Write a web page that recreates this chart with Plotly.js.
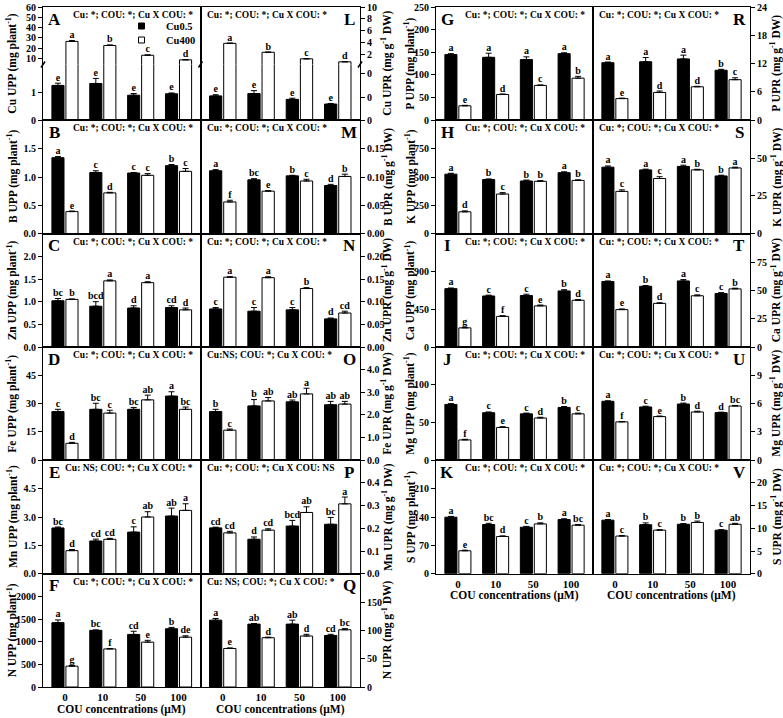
<!DOCTYPE html>
<html><head><meta charset="utf-8">
<script src="https://cdn.plot.ly/plotly-3.0.1.min.js"></script>
<style>body{margin:0;background:#fff}#chart{width:783px;height:718px}</style>
</head><body><div id="chart"></div>
<script>
// ---------- DATA ----------
const categories = ['0','10','50','100'];
const seriesNames = ['Cu0.5','Cu400'];

// Cu
const A_b=[1.25,1.32,0.9,0.95], A_be=[0.08,0.18,0.06,0.03], A_w=[26.5,22.5,13,8.5], A_we=[0.8,0.6,0.4,0.3], A_bl=['e','e','e','e'], A_wl=['a','b','c','d'];
const L_b=[0.21,0.23,0.18,0.14], L_be=[0.01,0.025,0.01,0.005], L_w=[3.9,2.4,1.3,0.8], L_we=[0.05,0.04,0.02,0.02], L_bl=['e','e','e','e'], L_wl=['a','b','c','d'];
// B
const B_b=[1.34,1.08,1.07,1.2], B_be=[0.02,0.03,0.01,0.02], B_w=[0.39,0.72,1.03,1.1], B_we=[0.01,0.01,0.03,0.05], B_bl=['a','c','c','b'], B_wl=['e','d','c','c'];
const M_b=[0.111,0.095,0.102,0.085], M_be=[0.002,0.002,0.001,0.002], M_w=[0.056,0.075,0.093,0.101], M_we=[0.003,0.001,0.003,0.004], M_bl=['a','bc','b','d'], M_wl=['f','e','c','b'];
// Zn
const C_b=[1.02,0.9,0.86,0.87], C_be=[0.05,0.1,0.05,0.04], C_w=[1.05,1.46,1.42,0.82], C_we=[0.01,0.02,0.02,0.04], C_bl=['bc','bcd','d','cd'], C_wl=['b','a','a','d'];
const N_b=[0.084,0.079,0.082,0.062], N_be=[0.003,0.008,0.005,0.002], N_w=[0.154,0.153,0.129,0.075], N_we=[0.001,0.002,0.002,0.004], N_bl=['c','c','c','d'], N_wl=['a','a','b','cd'];
// Fe
const D_b=[25.8,27,27,34], D_be=[1.2,3.2,1,2.3], D_w=[9,25,32,27], D_we=[0.5,1.5,2.5,1.2], D_bl=['c','bc','bc','a'], D_wl=['d','c','ab','bc'];
const O_b=[2.15,2.4,2.58,2.45], O_be=[0.1,0.28,0.08,0.15], O_w=[1.33,2.62,2.93,2.48], O_we=[0.05,0.15,0.25,0.12], O_bl=['b','b','ab','ab'], O_wl=['c','ab','a','ab'];
// Mn
const E_b=[2.42,1.73,2.2,3.05], E_be=[0.05,0.1,0.28,0.42], E_w=[1.22,1.82,3.0,3.35], E_we=[0.06,0.05,0.28,0.35], E_bl=['bc','cd','c','ab'], E_wl=['d','cd','ab','a'];
const P_b=[0.202,0.152,0.21,0.218], P_be=[0.003,0.01,0.025,0.03], P_w=[0.18,0.192,0.27,0.308], P_we=[0.007,0.006,0.025,0.03], P_bl=['cd','d','bcd','bc'], P_wl=['cd','cd','ab','a'];
// N
const F_b=[1420,1250,1160,1285], F_be=[60,10,70,30], F_w=[460,840,990,1100], F_we=[15,8,40,30], F_bl=['a','bc','cd','b'], F_wl=['g','f','e','de'];
const Q_b=[118,111,111,91], Q_be=[3,1,7,2], Q_w=[68,87,90,101], Q_we=[1,1,3,2], Q_bl=['a','ab','ab','cd'], Q_wl=['e','d','d','bc'];
// P
const G_b=[145,139,134,147], G_be=[2,9,6,2], G_w=[32,57,77,93], G_we=[1,1,1,4], G_bl=['a','a','a','a'], G_wl=['e','d','c','b'];
const R_b=[12.2,12.4,13,10.6], R_be=[0.15,0.9,0.8,0.2], R_w=[4.6,5.9,7.1,8.6], R_we=[0.1,0.3,0.1,0.4], R_bl=['a','a','a','b'], R_wl=['e','d','d','c'];
// K
const H_b=[525,478,465,538], H_be=[8,5,8,8], H_w=[193,350,462,470], H_we=[8,12,6,5], H_bl=['a','b','b','a'], H_wl=['d','c','b','b'];
const S_b=[44,42.2,44.5,38.2], S_be=[0.8,0.5,0.8,0.5], S_w=[28,36.5,42.2,43.5], S_we=[1,1.2,0.4,0.5], S_bl=['a','a','a','b'], S_wl=['c','c','b','a'];
// Ca
const I_b=[695,608,614,668], I_be=[8,10,15,15], I_w=[228,365,490,557], I_we=[5,8,10,8], I_bl=['a','c','c','b'], I_wl=['g','f','e','d'];
const T_b=[57.8,53.6,58.3,47.2], T_be=[0.5,0.6,1.2,0.8], T_w=[33,38.5,45.2,51.3], T_we=[0.6,0.5,0.8,0.6], T_bl=['a','b','a','c'], T_wl=['e','d','c','b'];
// Mg
const J_b=[74,63,61.5,70], J_be=[1,1,1,1.2], J_w=[27,43.5,56,61.5], J_we=[0.8,1,1,1], J_bl=['a','c','c','b'], J_wl=['f','e','d','c'];
const U_b=[6.25,5.65,5.96,5.05], U_be=[0.05,0.08,0.1,0.05], U_w=[4.07,4.63,5.12,5.75], U_we=[0.04,0.06,0.08,0.06], U_bl=['a','c','b','d'], U_wl=['f','e','d','bc'];
// S
const K_b=[139.5,121.4,114.8,133.7], K_be=[2,3,2,2], K_w=[56.6,91.9,123,119.8], K_we=[1.5,1.5,2.5,1.5], K_bl=['a','bc','c','a'], K_wl=['e','d','b','bc'];
const V_b=[11.8,10.8,10.9,9.6], V_be=[0.15,0.4,0.15,0.1], V_w=[8.3,9.6,11.3,10.9], V_we=[0.1,0.1,0.3,0.2], V_bl=['a','b','b','c'], V_wl=['c','c','b','ab'];

// ---------- LAYOUT HELPERS ----------
const FONT='Liberation Serif';
const W=783,H=718;
const fx=v=>v/W, fy=v=>1-v/H;
const ROW=[7,120.3,233.7,347,460.3,573.7,687];
const COLS={LL:[43,200.5],LR:[200.5,360],RL:[436,593],RR:[593,750]};
const XR=[-0.58,3.58];
const XPOS=[0,1,2,3];
const traces=[],annotations=[],shapes=[];
const layout={width:W,height:H,margin:{l:0,r:0,t:0,b:0},paper_bgcolor:'white',plot_bgcolor:'white',
  barmode:'overlay',showlegend:false,font:{family:FONT,color:'black'}};
let n=0;
const tf=(s)=>({family:FONT,size:s,weight:'bold',color:'black'});

function addSub(col,yTop,yBot,yr,tickvals,ticktext,opts){
  n++;
  const xk=n===1?'xaxis':'xaxis'+n, yk=n===1?'yaxis':'yaxis'+n;
  const xid=n===1?'x':'x'+n, yid=n===1?'y':'y'+n;
  const side=(col==='LR'||col==='RR')?'right':'left';
  layout[xk]={domain:[fx(COLS[col][0]),fx(COLS[col][1])],range:XR,anchor:yid,showline:true,
    mirror:opts.xmirror!==false,side:opts.xside||'bottom',linecolor:'black',linewidth:1,
    showgrid:false,zeroline:false,ticks:'',tickvals:XPOS,ticktext:categories,
    showticklabels:!!opts.xlabels,tickfont:tf(11),fixedrange:true};
  layout[yk]={domain:[fy(yBot),fy(yTop)],range:yr,anchor:xid,side:side,showline:true,mirror:true,
    linecolor:'black',linewidth:1,ticks:'outside',ticklen:4,tickwidth:1,tickcolor:'black',
    tickvals:tickvals,ticktext:ticktext,showgrid:false,zeroline:false,tickfont:tf(10),fixedrange:true};
  return {x:xid,y:yid};
}
function addBars(ids,vals,errs,color,offset){
  traces.push({type:'bar',x:XPOS,y:vals,xaxis:ids.x,yaxis:ids.y,offset:offset,width:0.32,
    marker:{color:color,line:{color:'black',width:1}},
    error_y:{type:'data',array:errs,arrayminus:[0,0,0,0],symmetric:false,color:'black',thickness:1,width:3},
    hoverinfo:'skip',showlegend:false});
}
function addLetters(ids,vals,errs,letters,dx){
  traces.push({type:'scatter',mode:'text',x:XPOS.map(i=>i+dx),y:vals.map((v,i)=>v+errs[i]),
    text:letters,textposition:'top center',textfont:tf(10),xaxis:ids.x,yaxis:ids.y,
    cliponaxis:false,hoverinfo:'skip',showlegend:false});
}
function fmt(vals,d){return vals.map(v=>v.toFixed(d));}
function decorate(p){
  const [x0,x1]=COLS[p.col], top=ROW[p.row], bot=ROW[p.row+1];
  const right=(p.col==='LR'||p.col==='RR');
  annotations.push({xref:'paper',yref:'paper',x:fx(right?x1-11:x0+11),y:fy(top+12),text:p.id,
    showarrow:false,font:tf(17),xanchor:'center',yanchor:'middle'});
  annotations.push({xref:'paper',yref:'paper',x:fx(right?x0+4:x1-6),y:fy(top+8),text:p.stat,
    showarrow:false,font:tf(9.5),xanchor:right?'left':'right',yanchor:'middle'});
  let tx;
  if(p.col==='LL')tx=12; else if(p.col==='LR')tx=387; else if(p.col==='RL')tx=410; else tx=776;
  annotations.push({xref:'paper',yref:'paper',x:fx(tx),y:fy((top+bot)/2),text:p.title,textangle:-90,
    showarrow:false,font:tf(11.5),xanchor:'center',yanchor:'middle'});
  if(p.bottom){
    annotations.push({xref:'paper',yref:'paper',x:fx((x0+x1)/2),y:fy(bot+22),text:'COU concentrations (μM)',
      showarrow:false,font:tf(11.5),xanchor:'center',yanchor:'middle'});
  }
}
function panel(p){
  const top=ROW[p.row], bot=ROW[p.row+1];
  const ids=addSub(p.col,top,bot,p.range,p.tickvals,p.ticktext,{xlabels:p.bottom});
  addBars(ids,p.b,p.be,'black',-0.345);
  addBars(ids,p.w,p.we,'white',0.025);
  addLetters(ids,p.b,p.be,p.bl,-0.185);
  addLetters(ids,p.w,p.we,p.wl,0.185);
  decorate(p);
}
function brokenPanel(p){
  const top=ROW[p.row], bot=ROW[p.row+1], brk=64.5;
  const lo=addSub(p.col,brk,bot,p.rangeLo,p.ticksLo,p.textLo,{xmirror:false});
  addBars(lo,p.b,p.be,'black',-0.345);
  addBars(lo,p.w,p.we,'white',0.025);
  addLetters(lo,p.b,p.be,p.bl,-0.185);
  const up=addSub(p.col,top,brk,p.rangeUp,p.ticksUp,p.textUp,{xmirror:false,xside:'top'});
  addBars(up,p.w,p.we,'white',0.025);
  addLetters(up,p.w,p.we,p.wl,0.185);
  decorate(p);
  const xs=(p.col==='LL')?[COLS.LL[0],COLS.LL[1]]:[COLS.LR[1]];
  xs.forEach(x=>shapes.push({type:'line',xref:'paper',yref:'paper',x0:fx(x-2),x1:fx(x+2),y0:fy(brk+3),y1:fy(brk-3),line:{color:'black',width:1.5}}));
}

const ST='Cu: *; COU: *; Cu X COU: *';
const UPP=s=>s+' UPP (mg plant<sup>-1</sup>)';
const UPR=s=>s+' UPR (mg g<sup>-1</sup> DW)';

// ---------- PANELS ----------
brokenPanel({id:'A',col:'LL',row:0,b:A_b,be:A_be,w:A_w,we:A_we,bl:A_bl,wl:A_wl,
  rangeLo:[0,2],ticksLo:[0,1],textLo:['0','1'],rangeUp:[4,60],ticksUp:[10,20,30,40,50,60],textUp:['10','20','30','40','50','60'],
  title:UPP('Cu'),stat:ST});
brokenPanel({id:'L',col:'LR',row:0,b:L_b,be:L_be,w:L_w,we:L_we,bl:L_bl,wl:L_wl,
  rangeLo:[0,0.48],ticksLo:[0,0.2,0.4],textLo:['0','0','0'],rangeUp:[0.35,10],ticksUp:[2,4,6,8,10],textUp:['2','4','6','8','10'],
  title:UPR('Cu'),stat:ST});

const specs=[
 {id:'B',col:'LL',row:1,d:[B_b,B_be,B_w,B_we,B_bl,B_wl],range:[0,2],tv:[0,0.5,1,1.5],dec:1,t:UPP('B'),stat:ST},
 {id:'M',col:'LR',row:1,d:[M_b,M_be,M_w,M_we,M_bl,M_wl],range:[0,0.2],tv:[0,0.05,0.1,0.15],dec:2,t:UPR('B'),stat:ST},
 {id:'C',col:'LL',row:2,d:[C_b,C_be,C_w,C_we,C_bl,C_wl],range:[0,2.5],tv:[0,0.5,1,1.5,2],dec:1,t:UPP('Zn'),stat:ST},
 {id:'N',col:'LR',row:2,d:[N_b,N_be,N_w,N_we,N_bl,N_wl],range:[0,0.25],tv:[0,0.05,0.1,0.15,0.2],dec:2,t:UPR('Zn'),stat:ST},
 {id:'D',col:'LL',row:3,d:[D_b,D_be,D_w,D_we,D_bl,D_wl],range:[0,60],tv:[0,15,30,45],dec:0,t:UPP('Fe'),stat:ST},
 {id:'O',col:'LR',row:3,d:[O_b,O_be,O_w,O_we,O_bl,O_wl],range:[0,5],tv:[0,1,2,3,4],dec:1,t:UPR('Fe'),stat:'Cu:NS; COU: *; Cu X COU: *'},
 {id:'E',col:'LL',row:4,d:[E_b,E_be,E_w,E_we,E_bl,E_wl],range:[0,6],tv:[0,1.5,3,4.5],dec:1,t:UPP('Mn'),stat:'Cu: NS; COU: *; Cu X COU: *'},
 {id:'P',col:'LR',row:4,d:[P_b,P_be,P_w,P_we,P_bl,P_wl],range:[0,0.5],tv:[0,0.1,0.2,0.3,0.4],dec:1,t:UPR('Mn'),stat:'Cu: *; COU: *; Cu X COU: NS'},
 {id:'F',col:'LL',row:5,d:[F_b,F_be,F_w,F_we,F_bl,F_wl],range:[0,2500],tv:[0,500,1000,1500,2000],dec:0,t:UPP('N'),stat:ST,bottom:true},
 {id:'Q',col:'LR',row:5,d:[Q_b,Q_be,Q_w,Q_we,Q_bl,Q_wl],range:[0,200],tv:[0,50,100,150],dec:0,t:UPR('N'),stat:'Cu: NS; COU: *; Cu X COU: *',bottom:true},
 {id:'G',col:'RL',row:0,d:[G_b,G_be,G_w,G_we,G_bl,G_wl],range:[0,250],tv:[0,50,100,150,200,250],dec:0,t:UPP('P'),stat:ST},
 {id:'R',col:'RR',row:0,d:[R_b,R_be,R_w,R_we,R_bl,R_wl],range:[0,24],tv:[0,6,12,18,24],dec:0,t:UPR('P'),stat:ST},
 {id:'H',col:'RL',row:1,d:[H_b,H_be,H_w,H_we,H_bl,H_wl],range:[0,1000],tv:[0,250,500,750],dec:0,t:UPP('K'),stat:ST},
 {id:'S',col:'RR',row:1,d:[S_b,S_be,S_w,S_we,S_bl,S_wl],range:[0,75],tv:[0,25,50],dec:0,t:UPR('K'),stat:ST},
 {id:'I',col:'RL',row:2,d:[I_b,I_be,I_w,I_we,I_bl,I_wl],range:[0,1350],tv:[0,450,900],dec:0,t:UPP('Ca'),stat:ST},
 {id:'T',col:'RR',row:2,d:[T_b,T_be,T_w,T_we,T_bl,T_wl],range:[0,100],tv:[0,25,50,75],dec:0,t:UPR('Ca'),stat:ST},
 {id:'J',col:'RL',row:3,d:[J_b,J_be,J_w,J_we,J_bl,J_wl],range:[0,150],tv:[0,50,100],dec:0,t:UPP('Mg'),stat:ST},
 {id:'U',col:'RR',row:3,d:[U_b,U_be,U_w,U_we,U_bl,U_wl],range:[0,12],tv:[0,3,6,9],dec:0,t:UPR('Mg'),stat:ST},
 {id:'K',col:'RL',row:4,d:[K_b,K_be,K_w,K_we,K_bl,K_wl],range:[0,280],tv:[0,70,140,210],dec:0,t:UPP('S'),stat:ST,bottom:true},
 {id:'V',col:'RR',row:4,d:[V_b,V_be,V_w,V_we,V_bl,V_wl],range:[0,25],tv:[0,5,10,15,20],dec:0,t:UPR('S'),stat:ST,bottom:true}
];
specs.forEach(s=>panel({id:s.id,col:s.col,row:s.row,b:s.d[0],be:s.d[1],w:s.d[2],we:s.d[3],bl:s.d[4],wl:s.d[5],
  range:s.range,tickvals:s.tv,ticktext:fmt(s.tv,s.dec),title:s.t,stat:s.stat,bottom:!!s.bottom}));

// legend in panel A
shapes.push({type:'rect',xref:'paper',yref:'paper',x0:fx(138.5),x1:fx(144.5),y0:fy(29),y1:fy(23),fillcolor:'black',line:{color:'black',width:1}});
shapes.push({type:'rect',xref:'paper',yref:'paper',x0:fx(138.5),x1:fx(144.5),y0:fy(43),y1:fy(37),fillcolor:'white',line:{color:'black',width:1}});
annotations.push({xref:'paper',yref:'paper',x:fx(164),y:fy(26.5),text:seriesNames[0],showarrow:false,font:tf(10.5),xanchor:'left',yanchor:'middle'});
annotations.push({xref:'paper',yref:'paper',x:fx(164),y:fy(40.5),text:seriesNames[1],showarrow:false,font:tf(10.5),xanchor:'left',yanchor:'middle'});

layout.annotations=annotations;
layout.shapes=shapes;
Plotly.newPlot('chart',traces,layout,{staticPlot:true,displayModeBar:false});
</script>
</body></html>
